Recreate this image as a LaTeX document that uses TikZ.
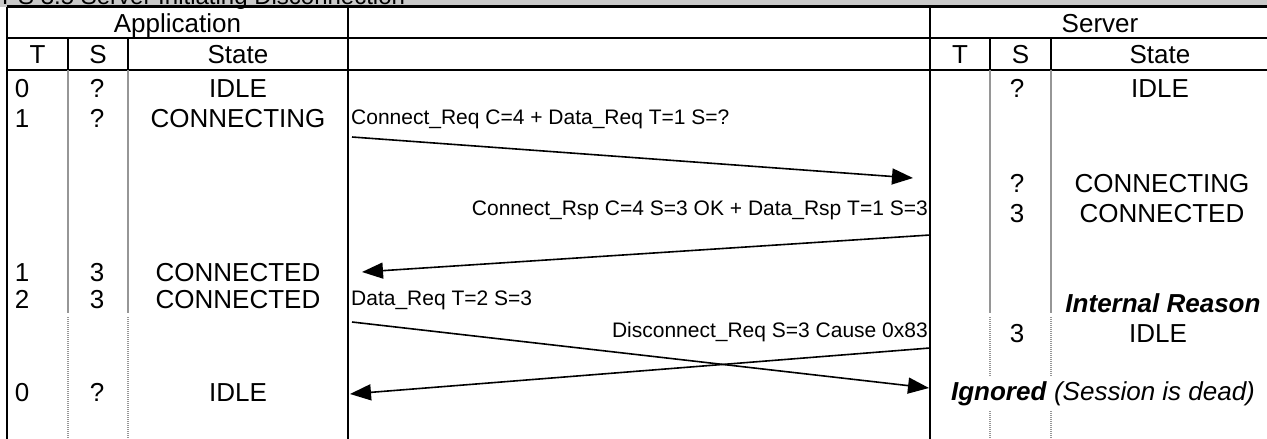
\documentclass[tikz,border=0pt]{standalone}
\usepackage{fontspec}
\setmainfont{Liberation Sans}
\usetikzlibrary{arrows.meta}
\definecolor{barcol}{RGB}{200,200,200}
\definecolor{sepcol}{RGB}{150,150,150}
\begin{document}
\begin{tikzpicture}[x=1pt,y=-1pt,
  cell/.style={font=\fontsize{26}{30}\selectfont, inner sep=0pt, anchor=base},
  msg/.style={font=\fontsize{21}{24}\selectfont, inner sep=0pt, anchor=base west},
  msgr/.style={msg, anchor=base east},
  rulebk/.style={line width=1.8pt, black},
  toprule/.style={line width=2.6pt, black},
  sepline/.style={line width=1.3pt, sepcol},
  sepdot/.style={line width=1.3pt, sepcol, dash pattern=on 1pt off 1pt},
  msgarrow/.style={line width=1.6pt, -{Triangle[length=21pt,width=16pt]}}
]
\useasboundingbox (0,0) rectangle (1267,439);
\clip (0,0) rectangle (1267,439);
% title bar
\fill[barcol] (0,0) rectangle (1267,6.5);
\node[cell, anchor=base west, font=\fontsize{24}{28}\selectfont] (title) at (2,5) {PS 3.5 Server Initiating Disconnection};
% frame
\draw[toprule] (7,6.5) -- (1267,6.5);
\draw[rulebk] (7,6.5) -- (7,439);
\draw[rulebk] (7,38) -- (1267,38);
\draw[rulebk] (7,70) -- (1267,70);
\draw[rulebk] (348,6.5) -- (348,439);
\draw[rulebk] (930,6.5) -- (930,439);
\foreach \x in {68,128,990,1051} {
  \draw[rulebk] (\x,38) -- (\x,70);
  \draw[sepline] (\x,70) -- (\x,313);
  \draw[sepdot] (\x,317) -- (\x,439);
}
% headers
\node[cell] (happ) at (177.5,32) {Application};
\node[cell] (hsrv) at (1100,32) {Server};
\node[cell] (haT) at (37.5,63) {T};
\node[cell] (haS) at (98,63) {S};
\node[cell] (haSt) at (238,63) {State};
\node[cell] (hsT) at (960,63) {T};
\node[cell] (hsS) at (1020.5,63) {S};
\node[cell] (hsSt) at (1160,63) {State};
% application rows
\node[cell] (a0t) at (22,97) {0};
\node[cell] (a0s) at (97,97) {?};
\node[cell] (a0st) at (238,97) {IDLE};
\node[cell] (a1t) at (22,127) {1};
\node[cell] (a1s) at (97,127) {?};
\node[cell] (a1st) at (238,127) {CONNECTING};
\node[cell] (a2t) at (22,281) {1};
\node[cell] (a2s) at (97,281) {3};
\node[cell] (a2st) at (238,281) {CONNECTED};
\node[cell] (a3t) at (22,308) {2};
\node[cell] (a3s) at (97,308) {3};
\node[cell] (a3st) at (238,308) {CONNECTED};
\node[cell] (a4t) at (22,401) {0};
\node[cell] (a4s) at (97,401) {?};
\node[cell] (a4st) at (238,401) {IDLE};
% server rows
\node[cell] (s0s) at (1017,97) {?};
\node[cell] (s0st) at (1160,97) {IDLE};
\node[cell] (s1s) at (1017,192) {?};
\node[cell] (s1st) at (1162,192) {CONNECTING};
\node[cell] (s2s) at (1017,222) {3};
\node[cell] (s2st) at (1162,222) {CONNECTED};
\node[cell, font=\fontsize{26}{30}\selectfont\bfseries\itshape] (s3r) at (1163,312) {Internal Reason};
\node[cell] (s3s) at (1017,342) {3};
\node[cell] (s3st) at (1158,342) {IDLE};
\node[cell, fill=white, inner xsep=1pt, inner ysep=5pt] (s4) at (1103,400) {\textbf{\textit{Ignored}} \textit{(Session is dead)}};
% messages
\node[msg] (l1) at (351,124) {Connect\_Req C=4 + Data\_Req T=1 S=?};
\node[msgr] (l2) at (928,215) {Connect\_Rsp C=4 S=3 OK + Data\_Rsp T=1 S=3};
\node[msg] (l3) at (351,305) {Data\_Req T=2 S=3};
\node[msgr] (l4) at (928,337) {Disconnect\_Req S=3 Cause 0x83};
\coordinate (m1s) at (352,137);
\coordinate (m1e) at (913,178);
\coordinate (m2s) at (930,235);
\coordinate (m2e) at (362,272);
\coordinate (m3s) at (352,322);
\coordinate (m3e) at (929,388);
\coordinate (m4s) at (930,348);
\coordinate (m4e) at (350,394);
\draw[msgarrow] (m1s) -- (m1e);
\draw[msgarrow] (m2s) -- (m2e);
\draw[msgarrow] (m3s) -- (m3e);
\draw[msgarrow] (m4s) -- (m4e);
\end{tikzpicture}
\end{document}
